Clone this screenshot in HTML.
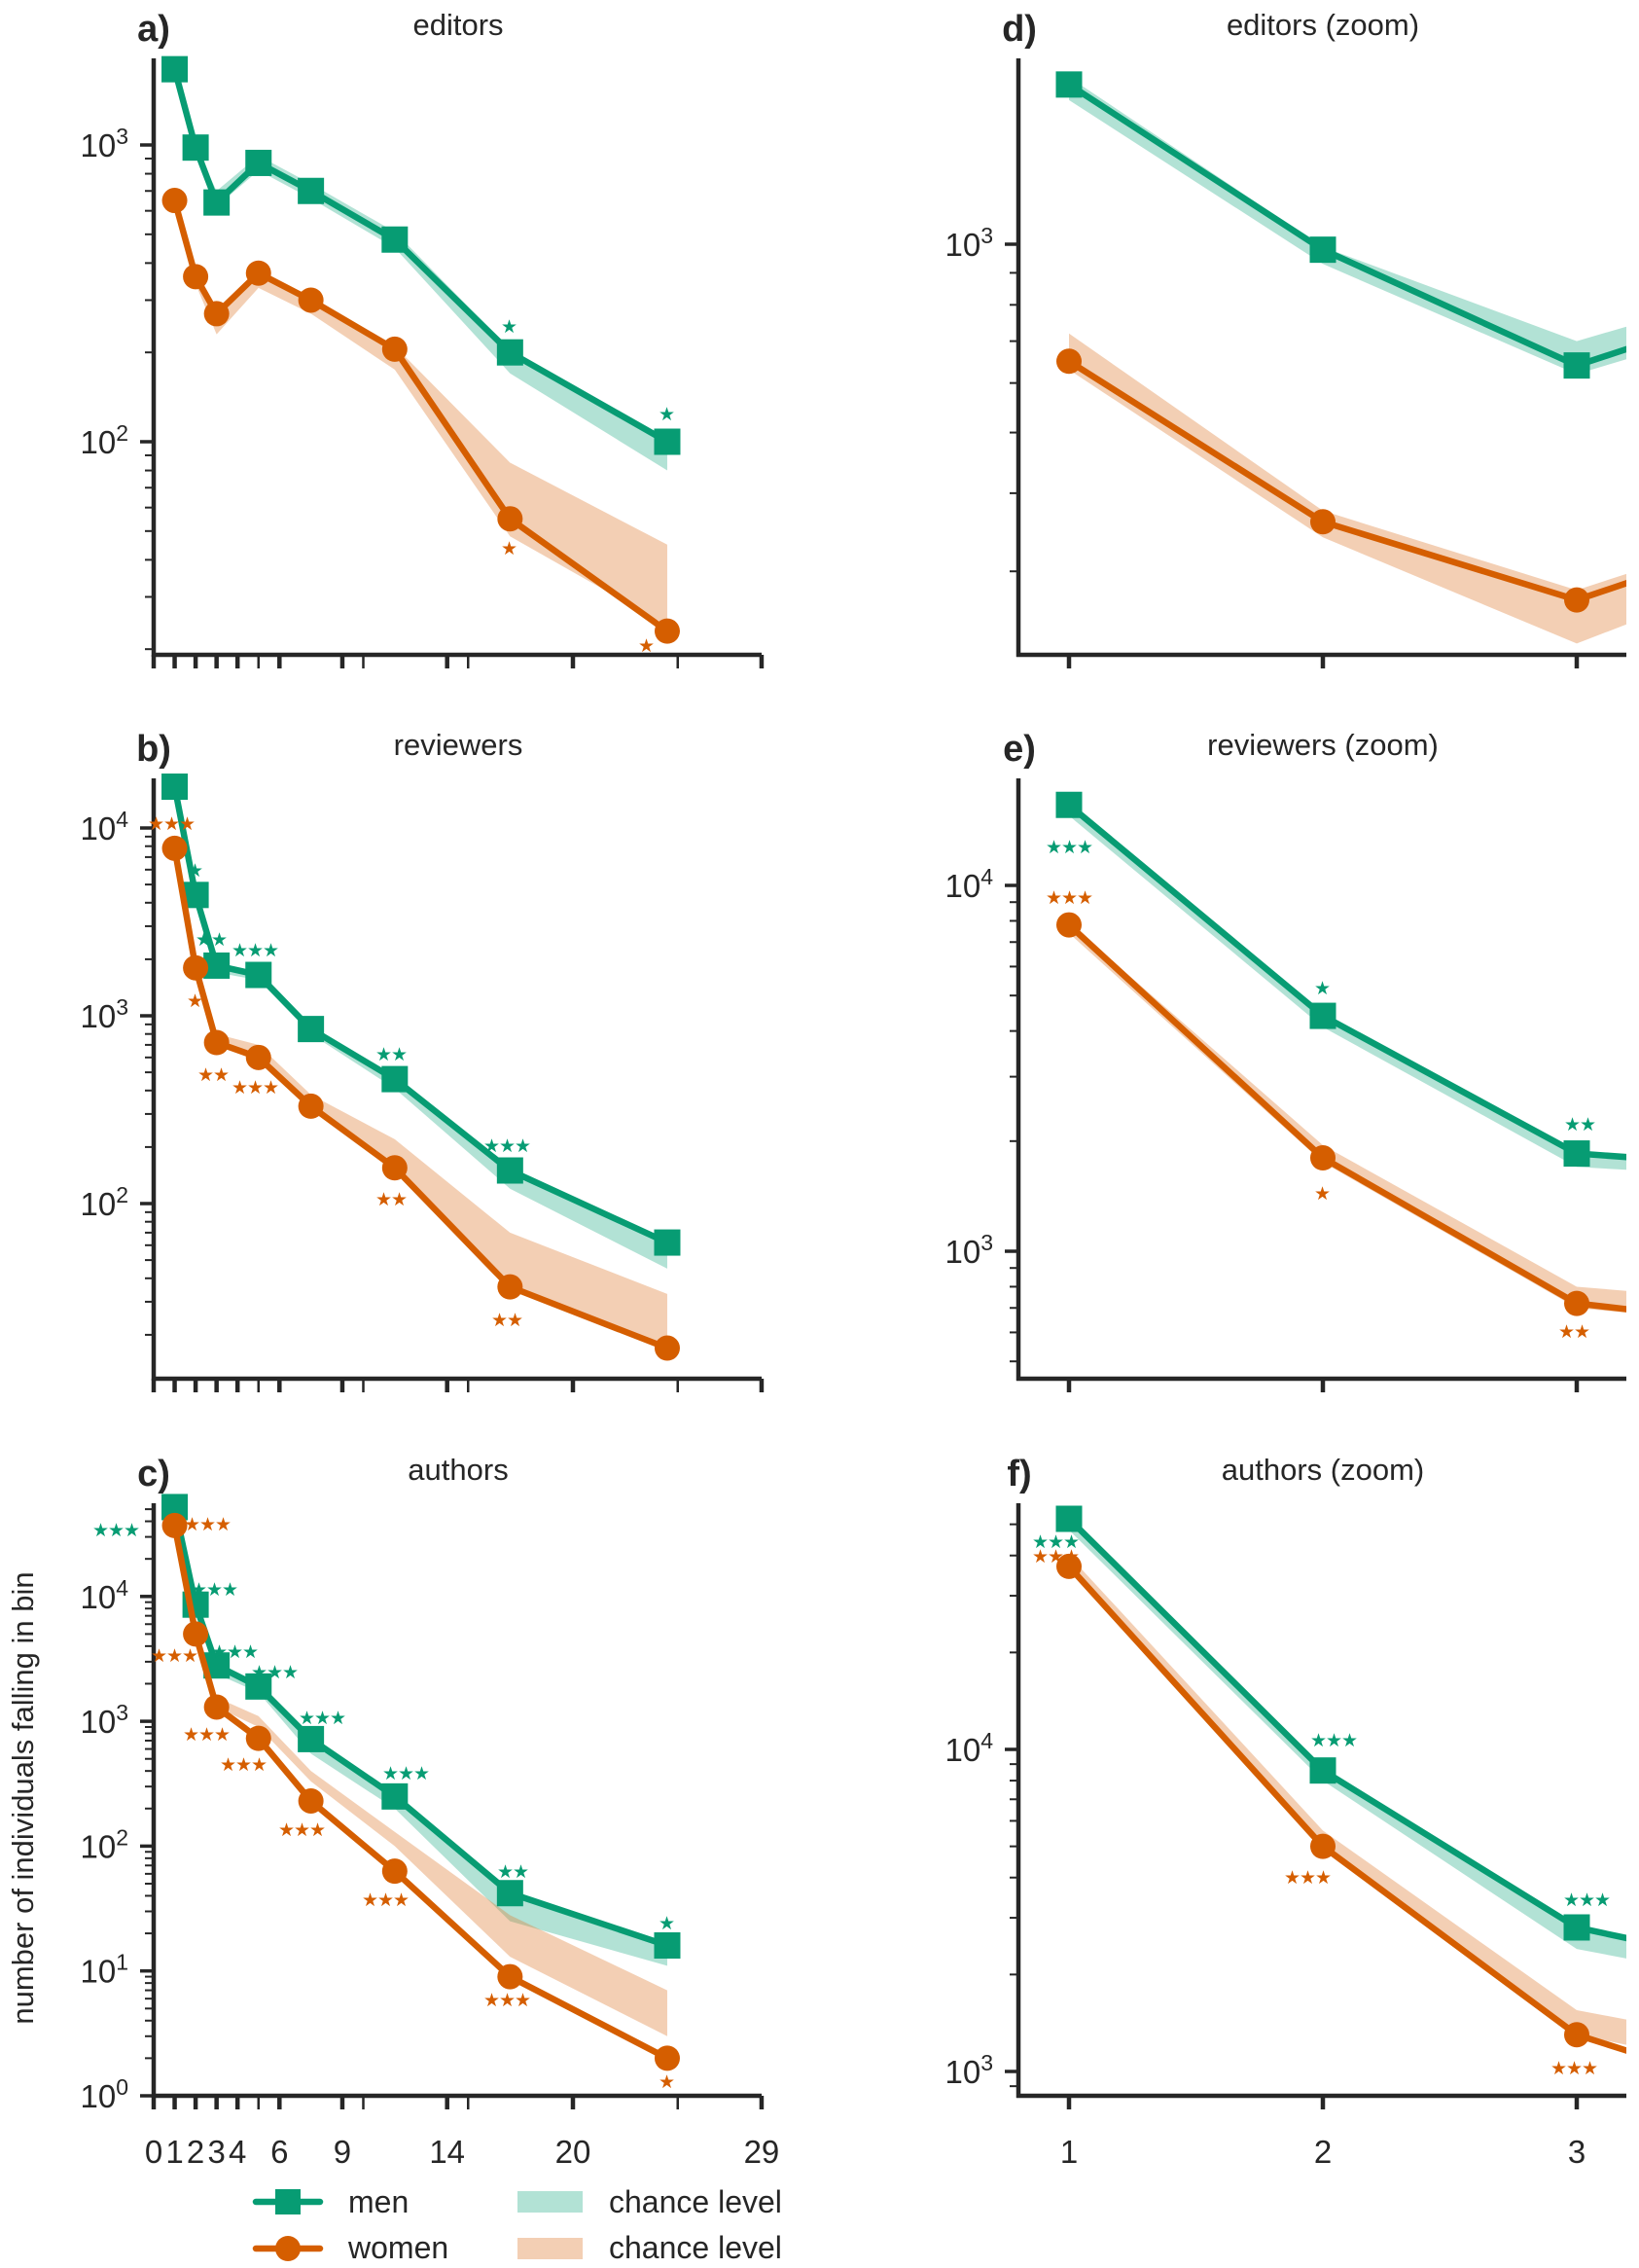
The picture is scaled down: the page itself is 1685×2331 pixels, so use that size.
<!DOCTYPE html>
<html><head><meta charset="utf-8">
<style>
html,body{margin:0;padding:0;background:#fff;overflow:hidden;width:1685px;height:2331px;}
svg{display:block;font-family:"Liberation Sans","DejaVu Sans",sans-serif;}
</style></head>
<body>
<svg id="s" width="1685" height="2331" viewBox="0 0 1685 2331" xmlns="http://www.w3.org/2000/svg"></svg>
<script>
const S=document.getElementById('s');
const NS='http://www.w3.org/2000/svg';
function el(t,a,txt,parent){const e=document.createElementNS(NS,t);for(const k in a)e.setAttribute(k,a[k]);if(txt!=null)e.textContent=txt;(parent||S).appendChild(e);return e;}
const G='#079c73',O='#d55e00',GB='#009e73',OB='#e0803a',AX='#262626';
const L=Math.log10;
const xs=[1,2,3,5,7.5,11.5,17,24.5];
const data={
 ed:{m:[1800,980,640,870,700,480,200,100],w:[650,360,270,370,300,205,55,23],
     mb:[[1700,1850],[930,990],[620,700],[820,920],[660,740],[450,510],[170,205],[80,103]],
     wb:[[630,720],[340,375],[230,280],[330,380],[270,300],[175,210],[48,85],[24,45]]},
 rv:{m:[16600,4400,1850,1650,850,460,150,62],w:[7800,1800,720,600,330,155,36,17],
     mb:[[15500,16800],[4100,4450],[1700,1880],[1550,1700],[800,880],[410,470],[120,150],[45,62]],
     wb:[[7400,7900],[1750,1950],[700,800],[600,700],[330,380],[155,220],[35,70],[17,33]]},
 au:{m:[52000,8600,2800,1900,720,250,42,16],w:[37000,5000,1300,730,230,63,9,2],
     mb:[[48000,52000],[8000,8600],[2400,2800],[1700,1900],[550,680],[200,240],[25,40],[11,15]],
     wb:[[37000,40000],[5000,5600],[1300,1550],[900,1100],[330,400],[100,130],[13,28],[3,7]]}
};
let clipId=0;
function panel(o){
 const cid='c'+(clipId++);
 const cp=el('clipPath',{id:cid});el('rect',{x:o.x0,y:o.top-20,width:o.x1-o.x0,height:o.bot-o.top+20},null,cp);
 const g=el('g',{'clip-path':'url(#'+cid+')'});
 const X=o.X,Y=o.Y,d=o.d,px=o.px;
 [[d.mb,GB,0.3],[d.wb,OB,0.38]].forEach(([b,c,a])=>{
  let p=px.map((x,i)=>X(x)+','+Y(b[i][1])).join(' ')+' '+px.map((x,i)=>X(x)+','+Y(b[i][0])).reverse().join(' ');
  el('polygon',{points:p,fill:c,'fill-opacity':a,stroke:'none'},null,g);
 });
 [[d.m,G,'s'],[d.w,O,'c']].forEach(([v,c,m])=>{
  el('polyline',{points:px.map((x,i)=>X(x)+','+Y(v[i])).join(' '),fill:'none',stroke:c,'stroke-width':6.5,'stroke-linejoin':'round'},null,g);
  px.forEach((x,i)=>{const cx=X(x),cy=Y(v[i]);
   if(m=='s')el('rect',{x:cx-13.5,y:cy-13.5,width:27,height:27,fill:c},null,g);
   else el('circle',{cx:cx,cy:cy,r:13,fill:c},null,g);});
 });
 el('line',{x1:o.x0,y1:o.top,x2:o.x0,y2:o.bot+2,stroke:AX,'stroke-width':4.5});
 el('line',{x1:o.x0-2,y1:o.bot,x2:o.x1,y2:o.bot,stroke:AX,'stroke-width':4.5});
 for(let k=-1;k<7;k++){for(let m=1;m<10;m++){const v=m*Math.pow(10,k);const y=Y(v);
  if(y<o.top-1||y>o.bot+1)continue;
  if(m==1){el('line',{x1:o.x0-14,y1:y,x2:o.x0,y2:y,stroke:AX,'stroke-width':3.5});
   const t=el('text',{x:o.x0-26,y:y+12,'text-anchor':'end','font-size':33,fill:AX});
   el('tspan',{},'10',t);el('tspan',{dy:-13,'font-size':23},String(k),t);}
  else el('line',{x1:o.x0-9,y1:y,x2:o.x0,y2:y,stroke:AX,'stroke-width':2});}}
 o.xt.forEach(([v,thick,lab])=>{const x=X(v);
  el('line',{x1:x,y1:o.bot,x2:x,y2:o.bot+14,stroke:AX,'stroke-width':thick?4.5:2.5});
  if(lab&&o.xl)el('text',{x:x,y:o.bot+69,'text-anchor':'middle','font-size':33,fill:AX},String(v));});
 el('text',{x:o.lx,y:o.top-18,'font-size':38,'font-weight':'bold',fill:AX,'text-anchor':'middle'},o.lab);
 el('text',{x:o.tx,y:o.top-24,'font-size':31,fill:AX,'text-anchor':'middle'},o.title);
}
const XL=v=>158+21.55*v, XR=v=>1099+261*(v-1);
const xtL=[[0,1,1],[1,1,1],[2,1,1],[3,1,1],[4,1,1],[5,0,0],[6,1,1],[9,1,1],[10,0,0],[14,1,1],[15,0,0],[20,1,1],[25,0,0],[29,1,1]];
const xtR=[[1,1,1],[2,1,1],[3,1,1]];
const pxR=[1,2,3,4,5,6,7,8];
panel({x0:158,x1:783,top:60,bot:673,X:XL,Y:v=>149-305*(L(v)-3),d:data.ed,px:xs,xt:xtL,xl:false,lab:'a)',lx:158,tx:471,title:'editors'});
panel({x0:158,x1:783,top:800,bot:1417,X:XL,Y:v=>1044-193*(L(v)-3),d:data.rv,px:xs,xt:xtL,xl:false,lab:'b)',lx:158,tx:471,title:'reviewers'});
panel({x0:158,x1:783,top:1545,bot:2154,X:XL,Y:v=>2154-128.3*L(v),d:data.au,px:xs,xt:xtL,xl:true,lab:'c)',lx:158,tx:471,title:'authors'});
panel({x0:1047,x1:1672,top:60,bot:673,X:XR,Y:v=>251-643*(L(v)-3),d:data.ed,px:pxR,xt:xtR,xl:false,lab:'d)',lx:1048,tx:1360,title:'editors (zoom)'});
panel({x0:1047,x1:1672,top:800,bot:1417,X:XR,Y:v=>910-376*(L(v)-4),d:data.rv,px:pxR,xt:xtR,xl:false,lab:'e)',lx:1048,tx:1360,title:'reviewers (zoom)'});
panel({x0:1047,x1:1672,top:1545,bot:2154,X:XR,Y:v=>1798-331*(L(v)-4),d:data.au,px:pxR,xt:xtR,xl:true,lab:'f)',lx:1048,tx:1360,title:'authors (zoom)'});
const st=[
[523,335,G,1],[685,425,G,1],[523,563,O,1],[664,663,O,1],
[176,846,O,3],[200,894,G,1],[217,965,G,2],[200,1028,O,1],[262,976,G,3],[219,1104,O,2],[262,1117,O,3],[402,1083,G,2],[402,1232,O,2],[521,1177,G,3],[521,1356,O,2],
[119,1572,G,3],[213,1566,O,3],[220,1633,G,3],[179,1701,O,3],[241,1697,G,3],[282,1718,G,3],[212,1782,O,3],[331,1765,G,3],[250,1813,O,3],[417,1822,G,3],[310,1880,O,3],[527,1923,G,2],[396,1952,O,3],[685,1976,G,1],[521,2055,O,3],[685,2139,O,1],
[1099,870,G,3],[1099,922,O,3],[1359,1015,G,1],[1359,1226,O,1],[1624,1155,G,2],[1618,1368,O,2],
[1085,1584,G,3],[1085,1599,O,3],[1371,1788,G,3],[1344,1929,O,3],[1631,1952,G,3],[1618,2125,O,3]];
st.forEach(([x,y,c,n])=>el('text',{x:x,y:y+7,'text-anchor':'middle','font-size':19,fill:c,'font-family':'DejaVu Sans, sans-serif','letter-spacing':-1},'★'.repeat(n)));
el('text',{x:0,y:0,transform:'translate(34,1848) rotate(-90)','text-anchor':'middle','font-size':31,fill:AX},'number of individuals falling in bin');
el('line',{x1:263,y1:2263,x2:329,y2:2263,stroke:G,'stroke-width':6.5,'stroke-linecap':'round'});
el('rect',{x:283,y:2250,width:26,height:26,fill:G});
el('line',{x1:263,y1:2311,x2:329,y2:2311,stroke:O,'stroke-width':6.5,'stroke-linecap':'round'});
el('circle',{cx:296,cy:2311,r:13,fill:O});
el('text',{x:358,y:2274,'font-size':32,fill:AX},'men');
el('text',{x:358,y:2321,'font-size':32,fill:AX},'women');
el('rect',{x:532,y:2252,width:67,height:22,fill:GB,'fill-opacity':0.3});
el('rect',{x:532,y:2300,width:67,height:22,fill:OB,'fill-opacity':0.38});
el('text',{x:626,y:2274,'font-size':32,fill:AX},'chance level');
el('text',{x:626,y:2321,'font-size':32,fill:AX},'chance level');
</script>
</body></html>
